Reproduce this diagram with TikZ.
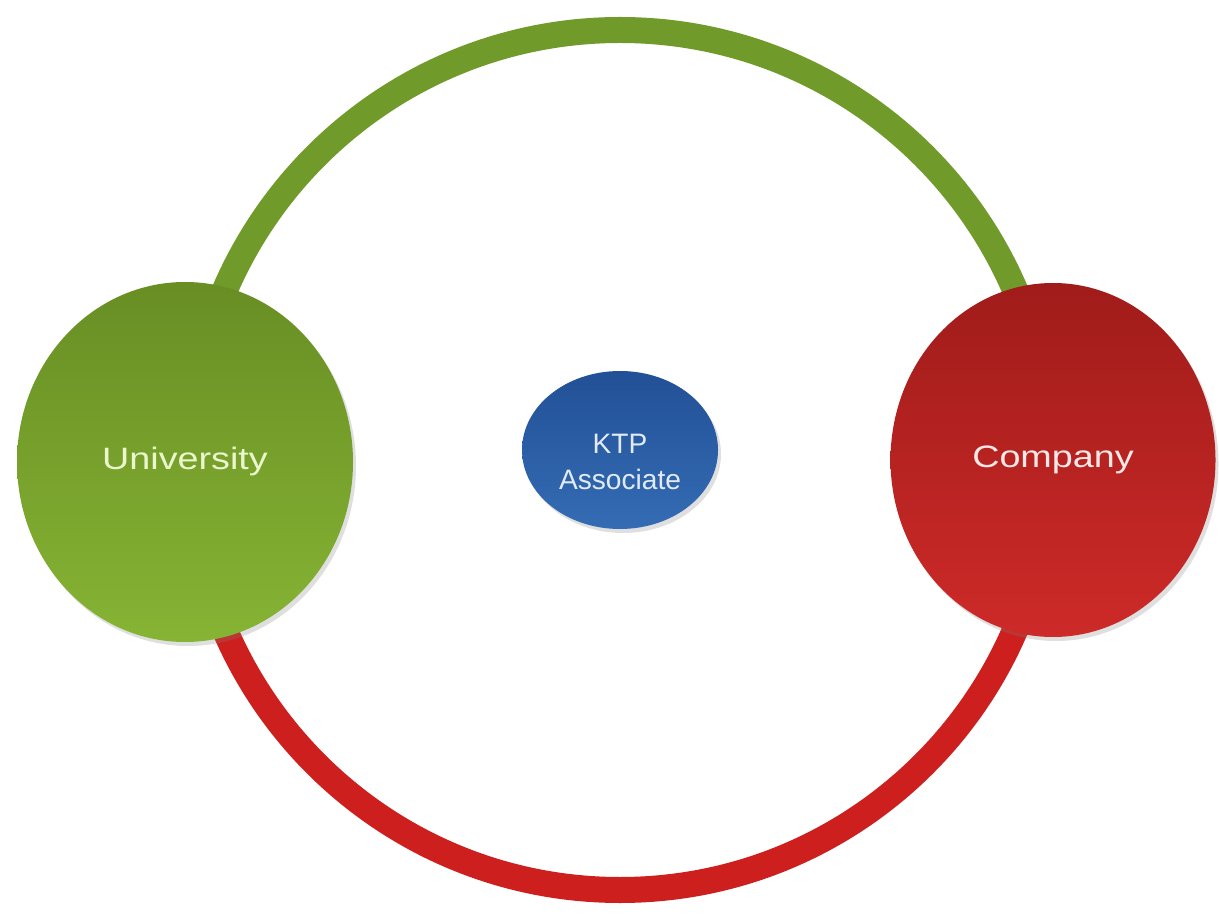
\documentclass[tikz,border=0pt]{standalone}
\usepackage{fontspec}
\setmainfont{Liberation Sans}
\usepackage{graphicx}
\usetikzlibrary{shapes.geometric, shadows}

\definecolor{ringgreen}{RGB}{112,154,42}
\definecolor{ringred}{RGB}{205,32,30}
\definecolor{unitop}{RGB}{104,142,36}
\definecolor{unibot}{RGB}{134,180,52}
\definecolor{comtop}{RGB}{160,28,26}
\definecolor{combot}{RGB}{205,42,40}
\definecolor{ktptop}{RGB}{34,80,150}
\definecolor{ktpbot}{RGB}{52,108,180}
\definecolor{unitext}{RGB}{236,246,205}
\definecolor{comtext}{RGB}{250,232,230}
\definecolor{ktptext}{RGB}{225,235,248}

\begin{document}
\begin{tikzpicture}[every node/.style = {shape=ellipse, inner sep=0pt, align=center},
ball/.style={drop shadow={opacity=0.25, shadow xshift=0.03cm, shadow yshift=-0.04cm}},
ring/.style={line width=0.26cm}]

  \useasboundingbox (0,0) rectangle (12.19,9.15);

  % the big ring
  \draw[ring, ringgreen] (1.90,4.55) arc (180:0:4.30);
  \draw[ring, ringred] (1.90,4.55) arc (180:360:4.30);

  \node[ball, minimum width=3.36cm, minimum height=3.60cm, top color=unitop, bottom color=unibot,
        text=unitext, font=\fontsize{8.8}{10}\selectfont] (uni) at (1.85,4.53)
        {\scalebox{1.22}[1]{University}};

  \node[ball, minimum width=3.25cm, minimum height=3.54cm, top color=comtop, bottom color=combot,
        text=comtext, font=\fontsize{8.8}{10}\selectfont] (com) at (10.53,4.55)
        {\scalebox{1.22}[1]{Company}};

  \node[ball, minimum width=1.96cm, minimum height=1.58cm, top color=ktptop, bottom color=ktpbot] (ktp) at (6.20,4.65) {};
  \node[shape=rectangle, text=ktptext, font=\fontsize{8}{10}\selectfont] (ktplabel) at ([yshift=-0.12cm]ktp.center) {KTP\\Associate};
\end{tikzpicture}
\end{document}
